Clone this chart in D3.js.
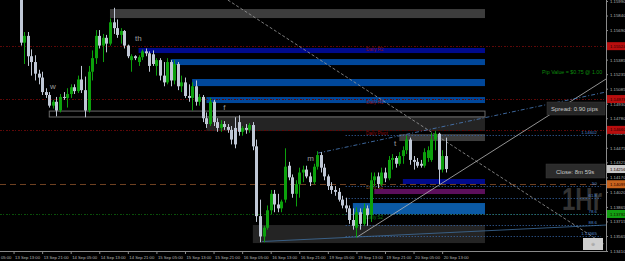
<!DOCTYPE html>
<html>
<head>
<meta charset="utf-8">
<script src="https://cdn.jsdelivr.net/npm/d3@7"></script>
<style>
  body { margin: 0; background: #000; }
  svg { display: block; }
  text { font-family: "Liberation Sans", Arial, sans-serif; }
</style>
</head>
<body>
<div id="chart"></div>
<script>
// hourly candles, index 0 = 13 Sep 15:00
const candleOpen = [
  1.1605, 1.1556, 1.1563, 1.1542, 1.1536, 1.1524, 1.1520, 1.1505, 1.1502, 1.1491,
  1.1495, 1.1486, 1.1500, 1.1499, 1.1503, 1.1510, 1.1506, 1.1518, 1.1507, 1.1486,
  1.1526, 1.1540, 1.1563, 1.1553, 1.1561, 1.1555, 1.1577, 1.1571, 1.1564, 1.1568,
  1.1553, 1.1538, 1.1542, 1.1536, 1.1541, 1.1547, 1.1545, 1.1544, 1.1532, 1.1538,
  1.1522, 1.1515, 1.1536, 1.1517, 1.1534, 1.1511, 1.1515, 1.1501, 1.1499, 1.1511,
  1.1495, 1.1500, 1.1478, 1.1472, 1.1495, 1.1474, 1.1468, 1.1472, 1.1469, 1.1466,
  1.1468, 1.1474, 1.1464, 1.1468, 1.1466, 1.1471, 1.1449, 1.1377, 1.1356, 1.1365,
  1.1383, 1.1400, 1.1389, 1.1385, 1.1394, 1.1429, 1.1417, 1.1400, 1.1410, 1.1422,
  1.1425, 1.1418, 1.1412, 1.1428, 1.1440, 1.1427, 1.1418, 1.1408, 1.1404, 1.1402,
  1.1394, 1.1388, 1.1385, 1.1373, 1.1365, 1.1381, 1.1369, 1.1385, 1.1378, 1.1414,
  1.1418, 1.1410, 1.1422, 1.1416, 1.1435, 1.1437, 1.1431, 1.1439, 1.1445, 1.1456,
  1.1435, 1.1433, 1.1431, 1.1429, 1.1437, 1.1435, 1.1456, 1.1462, 1.1425, 1.1439
];
const candleHigh = [
  1.1608, 1.1567, 1.1567, 1.1549, 1.1543, 1.1528, 1.1526, 1.1509, 1.1505, 1.1497,
  1.1500, 1.1503, 1.1505, 1.1509, 1.1513, 1.1513, 1.1522, 1.1532, 1.1521, 1.1532,
  1.1548, 1.1569, 1.1569, 1.1565, 1.1564, 1.1581, 1.1592, 1.1580, 1.1571, 1.1569,
  1.1554, 1.1544, 1.1543, 1.1543, 1.1549, 1.1550, 1.1547, 1.1548, 1.1540, 1.1540,
  1.1536, 1.1540, 1.1538, 1.1538, 1.1536, 1.1522, 1.1520, 1.1513, 1.1515, 1.1517,
  1.1503, 1.1502, 1.1484, 1.1499, 1.1497, 1.1478, 1.1476, 1.1475, 1.1472, 1.1470,
  1.1479, 1.1481, 1.1470, 1.1472, 1.1473, 1.1474, 1.1456, 1.1394, 1.1367, 1.1388,
  1.1404, 1.1404, 1.1400, 1.1394, 1.1447, 1.1433, 1.1420, 1.1414, 1.1427, 1.1429,
  1.1429, 1.1422, 1.1431, 1.1444, 1.1443, 1.1431, 1.1420, 1.1412, 1.1408, 1.1406,
  1.1398, 1.1396, 1.1388, 1.1385, 1.1386, 1.1385, 1.1390, 1.1388, 1.1422, 1.1422,
  1.1422, 1.1427, 1.1427, 1.1439, 1.1441, 1.1439, 1.1443, 1.1449, 1.1460, 1.1458,
  1.1439, 1.1437, 1.1435, 1.1447, 1.1449, 1.1463, 1.1465, 1.1463, 1.1445, 1.1458
];
const candleLow = [
  1.1553, 1.1534, 1.1532, 1.1522, 1.1517, 1.1513, 1.1502, 1.1499, 1.1489, 1.1488,
  1.1480, 1.1484, 1.1497, 1.1489, 1.1499, 1.1503, 1.1504, 1.1504, 1.1479, 1.1484,
  1.1517, 1.1534, 1.1550, 1.1536, 1.1546, 1.1553, 1.1565, 1.1561, 1.1555, 1.1550,
  1.1540, 1.1526, 1.1538, 1.1532, 1.1538, 1.1542, 1.1526, 1.1532, 1.1522, 1.1517,
  1.1511, 1.1513, 1.1511, 1.1513, 1.1507, 1.1505, 1.1499, 1.1495, 1.1486, 1.1491,
  1.1491, 1.1474, 1.1468, 1.1470, 1.1470, 1.1464, 1.1464, 1.1466, 1.1463, 1.1451,
  1.1447, 1.1460, 1.1460, 1.1462, 1.1463, 1.1445, 1.1371, 1.1350, 1.1350, 1.1363,
  1.1379, 1.1381, 1.1381, 1.1381, 1.1391, 1.1414, 1.1396, 1.1387, 1.1396, 1.1412,
  1.1416, 1.1408, 1.1410, 1.1425, 1.1422, 1.1414, 1.1404, 1.1400, 1.1398, 1.1392,
  1.1385, 1.1381, 1.1369, 1.1363, 1.1355, 1.1363, 1.1367, 1.1367, 1.1371, 1.1408,
  1.1406, 1.1408, 1.1412, 1.1414, 1.1425, 1.1427, 1.1429, 1.1431, 1.1441, 1.1430,
  1.1425, 1.1427, 1.1427, 1.1427, 1.1433, 1.1433, 1.1445, 1.1410, 1.1422, 1.1422
];
const candleClose = [
  1.1556, 1.1563, 1.1542, 1.1536, 1.1524, 1.1520, 1.1505, 1.1502, 1.1491, 1.1495,
  1.1486, 1.1500, 1.1499, 1.1503, 1.1510, 1.1506, 1.1518, 1.1507, 1.1486, 1.1526,
  1.1540, 1.1563, 1.1553, 1.1561, 1.1555, 1.1577, 1.1571, 1.1564, 1.1568, 1.1553,
  1.1542, 1.1542, 1.1540, 1.1541, 1.1547, 1.1545, 1.1532, 1.1534, 1.1538, 1.1522,
  1.1515, 1.1536, 1.1517, 1.1534, 1.1511, 1.1515, 1.1501, 1.1499, 1.1511, 1.1495,
  1.1500, 1.1478, 1.1472, 1.1495, 1.1474, 1.1468, 1.1472, 1.1469, 1.1466, 1.1456,
  1.1451, 1.1464, 1.1468, 1.1466, 1.1471, 1.1449, 1.1377, 1.1356, 1.1365, 1.1383,
  1.1400, 1.1389, 1.1385, 1.1392, 1.1428, 1.1417, 1.1400, 1.1410, 1.1422, 1.1425,
  1.1418, 1.1412, 1.1428, 1.1440, 1.1427, 1.1418, 1.1408, 1.1404, 1.1402, 1.1394,
  1.1388, 1.1385, 1.1373, 1.1367, 1.1381, 1.1369, 1.1385, 1.1378, 1.1414, 1.1418,
  1.1410, 1.1422, 1.1416, 1.1435, 1.1437, 1.1431, 1.1439, 1.1445, 1.1456, 1.1435,
  1.1433, 1.1429, 1.1429, 1.1443, 1.1445, 1.1456, 1.1462, 1.1425, 1.1439, 1.14256
];

// time axis labels and the candle index they sit on
const timeLabels = ["13 Sep 05:00", "13 Sep 13:00", "13 Sep 21:00", "14 Sep 05:00", "14 Sep 13:00",
  "14 Sep 21:00", "15 Sep 05:00", "15 Sep 13:00", "15 Sep 21:00", "16 Sep 05:00", "16 Sep 13:00",
  "16 Sep 21:00", "19 Sep 05:00", "19 Sep 13:00", "19 Sep 21:00", "20 Sep 05:00", "20 Sep 13:00"];
const timeIndex = [-10, -2, 6, 14, 22, 30, 38, 46, 54, 62, 70, 78, 86, 94, 102, 110, 118];

// price axis ticks
const priceTicks = [1.15990, 1.15840, 1.15690, 1.15535, 1.15385, 1.15235, 1.15085, 1.14930, 1.14780,
  1.14625, 1.14475, 1.14325, 1.14170, 1.14020, 1.13865, 1.13715, 1.13565, 1.13410];

// supply / demand zones
const zoneStart = [25, 33, 42, 48, 52, 52, 106, 107, 99, 93, 65, 8];
const zoneEnd = 130;
const zoneHigh = [1.15907, 1.15505, 1.15391, 1.15185, 1.14999, 1.14803, 1.14617, 1.14153, 1.14050, 1.13905, 1.13678, 1.14854];
const zoneLow = [1.15814, 1.15453, 1.15329, 1.15112, 1.14937, 1.14648, 1.14545, 1.14101, 1.13998, 1.13792, 1.13492, 1.14793];
const zoneKind = ["grey", "navy", "blue", "blue", "blue", "dark", "grey", "navy", "purple", "lightblue", "dark", "outline"];

// daily pivots
const pivotNames = ["Daily R2", "Daily R1", "Daily Pivot", "Daily S1", "Daily S2"];
const pivotLevels = [1.15524, 1.14978, 1.14660, 1.14099, 1.13792];
const pivotKind = ["r", "r", "r", "s1", "s2"];

// fibonacci retracement
const fibHigh = 1.14602, fibLow = 1.13565;
const fibRatios = [0, 0.5, 0.618, 0.786, 0.886, 1];
const fibStart = 91, fibEnd = 162.5;

// trend lines [index, price]
const trendFrom = [[58, 1.16000], [94.2, 1.13554], [83.3, 1.14421], [67.6, 1.13508]];
const trendTo = [[163.3, 1.13482], [163.9, 1.15185], [163.9, 1.15051], [163.9, 1.13678]];
const trendKind = ["dashed", "solid", "dashdot", "steel"];

// wave letters
const waveText = ["w", "th", "f", "m", "t"];
const waveIndex = [8.2, 32, 56.7, 80.2, 104.5];
const wavePrice = [1.15082, 1.15577, 1.14865, 1.14338, 1.14493];

const W = 625, H = 261;
const right = 606, bottom = 251;

const x = d3.scaleLinear().domain([0, 119]).range([20.7, 445.7]);
const y = d3.scaleLinear().domain([1.13410, 1.15990]).range([251, 1]);

const svg = d3.select("#chart").append("svg")
  .attr("width", W).attr("height", H);

svg.append("rect").attr("width", W).attr("height", H).attr("fill", "#000");

svg.append("clipPath").attr("id", "plot")
  .append("rect").attr("width", right).attr("height", bottom);

const g = svg.append("g").attr("clip-path", "url(#plot)");

// watermark
g.append("text")
  .attr("x", 562).attr("y", 210)
  .attr("font-size", 31).attr("font-weight", "bold")
  .attr("fill", "#333333")
  .attr("textLength", 40).attr("lengthAdjust", "spacingAndGlyphs")
  .text("1Hr");

// zones
const zoneFill = {grey: "#3d3d3d", navy: "#000a8c", blue: "#00479a", dark: "#242424",
  purple: "#5c0f5c", lightblue: "#0b5aa5", outline: "none"};
g.append("g").selectAll("rect")
  .data(zoneStart.map((s, i) => ({s, hi: zoneHigh[i], lo: zoneLow[i], k: zoneKind[i]})))
  .enter().append("rect")
    .attr("x", d => x(d.s))
    .attr("y", d => y(d.hi))
    .attr("width", d => x(zoneEnd) - x(d.s))
    .attr("height", d => y(d.lo) - y(d.hi))
    .attr("fill", d => zoneFill[d.k])
    .attr("stroke", d => d.k === "outline" ? "#6a6a6a" : "none");

// pivot lines
const pivotStroke = {r: "#5e0808", s1: "#6e4020", s2: "#0a4f0a"};
const pivotDash = {r: "2,1,1,2", s1: "6,4", s2: "2,1,1,2"};
const pivotText = {r: "#8a0e0e", s1: "#8b4a1e", s2: "#0c7a0c"};
const piv = g.append("g");
pivotLevels.forEach((p, i) => {
  piv.append("line")
    .attr("x1", 0).attr("x2", right)
    .attr("y1", Math.round(y(p)) + 0.5).attr("y2", Math.round(y(p)) + 0.5)
    .attr("stroke", pivotStroke[pivotKind[i]])
    .attr("stroke-dasharray", pivotDash[pivotKind[i]]);
  piv.append("text")
    .attr("x", 366).attr("y", y(p) + 5)
    .attr("font-size", 4.6)
    .attr("fill", pivotText[pivotKind[i]])
    .text(pivotNames[i]);
});

// fib levels
const fib = g.append("g");
fibRatios.forEach(r => {
  const p = fibHigh - r * (fibHigh - fibLow);
  fib.append("line")
    .attr("x1", x(fibStart)).attr("x2", x(fibEnd))
    .attr("y1", Math.round(y(p)) + 0.5).attr("y2", Math.round(y(p)) + 0.5)
    .attr("stroke", "#3a6cb0")
    .attr("stroke-dasharray", "1,2");
  fib.append("text")
    .attr("x", 597).attr("y", y(p) - 1)
    .attr("text-anchor", "end")
    .attr("font-size", 4.4)
    .attr("fill", "#4f86cc")
    .text(r === 0 ? fibHigh.toFixed(5) : r === 1 ? fibLow.toFixed(5) : d3.format(".3~f")(r * 100));
});

// trend lines
const trendStroke = {dashed: "#9a9a9a", solid: "#b8b8b8", dashdot: "#4b7fc0", steel: "#3f6e9e"};
const trendDash = {dashed: "3,2", solid: null, dashdot: "4,2,1,2", steel: null};
trendFrom.forEach((a, i) => {
  const b = trendTo[i];
  g.append("line")
    .attr("x1", x(a[0])).attr("y1", y(a[1]))
    .attr("x2", x(b[0])).attr("y2", y(b[1]))
    .attr("stroke", trendStroke[trendKind[i]])
    .attr("stroke-width", 0.8)
    .attr("stroke-dasharray", trendDash[trendKind[i]]);
});

// candles
const candles = candleOpen.map((o, i) => ({i, o, h: candleHigh[i], l: candleLow[i], c: candleClose[i]}));
const bull = "#0ca00c", bear = "#c0c8d6";
const cg = g.append("g").selectAll("g").data(candles).enter().append("g");
cg.append("line")
  .attr("x1", d => Math.round(x(d.i)) + 0.5).attr("x2", d => Math.round(x(d.i)) + 0.5)
  .attr("y1", d => y(d.h)).attr("y2", d => y(d.l))
  .attr("stroke", d => d.c >= d.o ? bull : bear);
cg.append("rect")
  .attr("x", d => Math.round(x(d.i)) - 1)
  .attr("width", 3)
  .attr("y", d => y(Math.max(d.o, d.c)))
  .attr("height", d => Math.max(1, Math.abs(y(d.o) - y(d.c))))
  .attr("fill", d => d.c >= d.o ? bull : bear);

// wave letters
waveText.forEach((t, i) => {
  g.append("text")
    .attr("x", x(waveIndex[i])).attr("y", y(wavePrice[i]))
    .attr("font-size", 8).attr("fill", "#9c9c9c")
    .text(t);
});

// info panels
svg.append("text").attr("x", 542).attr("y", 74)
  .attr("font-size", 5.3).attr("fill", "#0c8a0c")
  .text("Pip Value = $0.75 @ 1.00");

svg.append("rect").attr("x", 547).attr("y", 102).attr("width", 58).attr("height", 13)
  .attr("fill", "#262626").attr("stroke", "#3a3a3a").attr("stroke-width", 0.5);
svg.append("text").attr("x", 551).attr("y", 110.5)
  .attr("font-size", 6).attr("fill", "#c8c8c8")
  .text("Spread: 0.90 pips");

svg.append("rect").attr("x", 546).attr("y", 164).attr("width", 59).attr("height", 14)
  .attr("fill", "#2b2b2b").attr("stroke", "#3a3a3a").attr("stroke-width", 0.5);
svg.append("text").attr("x", 556).attr("y", 173.5)
  .attr("font-size", 6).attr("fill", "#c8c8c8")
  .text("Close: 8m 59s");

svg.append("rect").attr("x", 583).attr("y", 238).attr("width", 20).attr("height", 12)
  .attr("fill", "#cfcfcf");
svg.append("text").attr("x", 593).attr("y", 246).attr("text-anchor", "middle")
  .attr("font-size", 5).attr("fill", "#9a9a9a").text("⊕");

// axes
svg.append("line").attr("x1", right + 0.5).attr("x2", right + 0.5).attr("y1", 0).attr("y2", bottom + 1)
  .attr("stroke", "#8a8a8a");
svg.append("line").attr("x1", 0).attr("x2", right + 1).attr("y1", bottom + 0.5).attr("y2", bottom + 0.5)
  .attr("stroke", "#8a8a8a");

const yAxis = svg.append("g").attr("transform", `translate(${right},0)`)
  .call(d3.axisRight(y).tickValues(priceTicks).tickFormat(d3.format(".5f")).tickSize(2).tickPadding(2));
yAxis.select(".domain").remove();
yAxis.selectAll("line").attr("stroke", "#8a8a8a");
yAxis.selectAll("text").attr("fill", "#b4b4b4").attr("font-size", 4.3)
  .attr("font-family", "Liberation Sans, Arial, sans-serif");

const xAxis = svg.append("g").attr("transform", `translate(0,${bottom})`)
  .call(d3.axisBottom(x).tickValues(timeIndex).tickFormat((d, i) => timeLabels[i]).tickSize(3).tickPadding(2));
xAxis.select(".domain").remove();
xAxis.selectAll("line").attr("stroke", "#8a8a8a");
xAxis.selectAll("text").attr("fill", "#b4b4b4").attr("font-size", 4.2)
  .attr("text-anchor", "start").attr("dx", 1)
  .attr("font-family", "Liberation Sans, Arial, sans-serif");

// coloured price labels on the axis
const priceBoxes = [
  {p: pivotLevels[0], fill: "#b80e0e"},
  {p: pivotLevels[1], fill: "#b80e0e"},
  {p: pivotLevels[2], fill: "#b80e0e"},
  {p: candleClose[candleClose.length - 1], fill: "#c8c8c8"},
  {p: pivotLevels[3], fill: "#c8641e"},
  {p: pivotLevels[4], fill: "#12a012"}
];
const pb = svg.append("g").selectAll("g").data(priceBoxes).enter().append("g")
  .attr("transform", d => `translate(${right + 1},${y(d.p)})`);
pb.append("rect").attr("x", 0).attr("y", -4).attr("width", 19).attr("height", 8)
  .attr("fill", d => d.fill);
pb.append("text").attr("x", 3).attr("y", 1.6)
  .attr("font-size", 4.3).attr("fill", "#1a0000")
  .text(d => d.p.toFixed(5));
</script>
</body>
</html>
